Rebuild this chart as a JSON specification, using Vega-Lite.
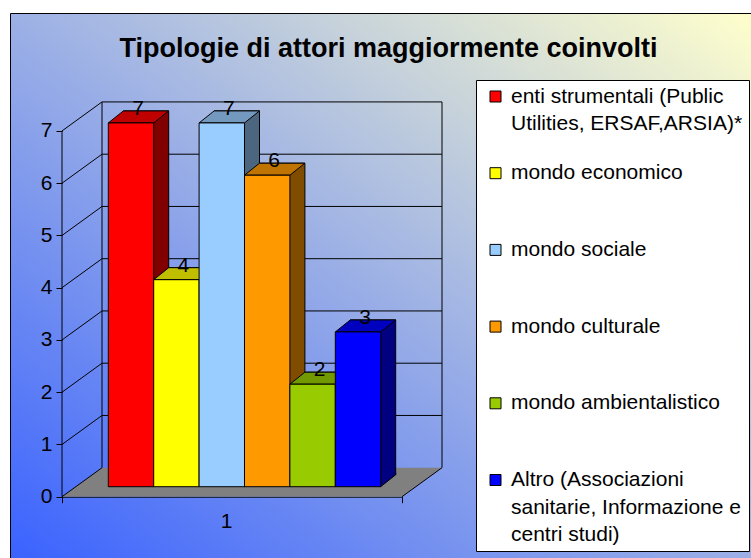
{
  "$schema": "https://vega.github.io/schema/vega-lite/v6.json",
  "width": 741,
  "height": 545,
  "autosize": {"type": "none"},
  "padding": {"left": 10, "top": 13, "right": 0, "bottom": 0},
  "view": {
    "stroke": "black",
    "strokeWidth": 1,
    "fill": {"gradient": "linear", "x1": 0, "y1": 1, "x2": 1, "y2": 0,
      "stops": [{"offset": 0, "color": "#3A62FF"}, {"offset": 1, "color": "#FFFFCC"}]}
  },
  "config": {"font": "Liberation Sans"},
  "title": {
    "text": "Tipologie di attori maggiormente coinvolti",
    "fontSize": 27, "fontWeight": "bold", "font": "Liberation Sans", "color": "black",
    "anchor": "middle", "frame": "group", "orient": "top", "baseline": "alphabetic",
    "offset": -71, "dx": 8
  },
  "datasets": {
    "serie": [
      {"categoria": "1", "serie": "enti strumentali (Public Utilities, ERSAF,ARSIA)*", "valore": 7},
      {"categoria": "1", "serie": "mondo economico", "valore": 4},
      {"categoria": "1", "serie": "mondo sociale", "valore": 7},
      {"categoria": "1", "serie": "mondo culturale", "valore": 6},
      {"categoria": "1", "serie": "mondo ambientalistico", "valore": 2},
      {"categoria": "1", "serie": "Altro (Associazioni sanitarie, Informazione e centri studi)", "valore": 3}
    ],
    "griglia": [{"k": 0}, {"k": 1}, {"k": 2}, {"k": 3}, {"k": 4}, {"k": 5}, {"k": 6}, {"k": 7}],
    "base": [{"categoria": "1"}]
  },
  "resolve": {"scale": {"xOffset": "independent", "fill": "independent"}},
  "layer": [
    {
      "data": {"name": "base"},
      "mark": {"type": "point", "shape": "M-170,0L170,0L210,-29L-130,-29Z", "size": 4, "filled": true, "fill": "#808080", "strokeWidth": 0, "opacity": 1},
      "encoding": {
        "x": {"field": "categoria", "type": "nominal", "title": null, "scale": {"domain": ["1"], "range": [52, 392], "paddingInner": 0, "paddingOuter": 0}},
        "y": {"datum": 0, "type": "quantitative", "title": null, "scale": {"domain": [-1.173, 9.257], "nice": false, "zero": false}}
      }
    },
    {
      "data": {"name": "griglia"},
      "mark": {"type": "point", "shape": "M-170,0L-130,-29", "size": 4, "filled": false, "stroke": "black", "strokeWidth": 1, "opacity": 1},
      "encoding": {
        "x": {"datum": "1", "type": "nominal", "title": null, "scale": {"domain": ["1"], "range": [52, 392], "paddingInner": 0, "paddingOuter": 0}},
        "y": {"field": "k", "type": "quantitative", "title": null, "scale": {"domain": [-1.173, 9.257], "nice": false, "zero": false}}
      }
    },
    {
      "data": {"name": "griglia"},
      "transform": [{"filter": "datum.k > 0"}],
      "mark": {"type": "point", "shape": "M-130,-29L210,-29", "size": 4, "filled": false, "stroke": "black", "strokeWidth": 1, "opacity": 1},
      "encoding": {
        "x": {"datum": "1", "type": "nominal", "title": null, "scale": {"domain": ["1"], "range": [52, 392], "paddingInner": 0, "paddingOuter": 0}},
        "y": {"field": "k", "type": "quantitative", "title": null, "scale": {"domain": [-1.173, 9.257], "nice": false, "zero": false}}
      }
    },
    {
      "data": {"name": "base"},
      "mark": {"type": "rule", "color": "black", "strokeWidth": 1, "xOffset": -130, "yOffset": -29, "y2Offset": -29},
      "encoding": {
        "x": {"field": "categoria", "type": "nominal", "title": null, "scale": {"domain": ["1"], "range": [52, 392], "paddingInner": 0, "paddingOuter": 0}},
        "y": {"datum": 0, "type": "quantitative", "title": null, "scale": {"domain": [-1.173, 9.257], "nice": false, "zero": false}},
        "y2": {"datum": 7}
      }
    },
    {
      "data": {"name": "base"},
      "mark": {"type": "rule", "color": "black", "strokeWidth": 1, "xOffset": 210, "yOffset": -29, "y2Offset": -29},
      "encoding": {
        "x": {"field": "categoria", "type": "nominal", "title": null, "scale": {"domain": ["1"], "range": [52, 392], "paddingInner": 0, "paddingOuter": 0}},
        "y": {"datum": 0, "type": "quantitative", "title": null, "scale": {"domain": [-1.173, 9.257], "nice": false, "zero": false}},
        "y2": {"datum": 7}
      }
    },
    {
      "data": {"name": "base"},
      "mark": {"type": "rule", "color": "black", "strokeWidth": 1, "xOffset": -170},
      "encoding": {
        "x": {"field": "categoria", "type": "nominal", "title": null, "scale": {"domain": ["1"], "range": [52, 392], "paddingInner": 0, "paddingOuter": 0}},
        "y": {"datum": 0, "type": "quantitative", "title": null, "scale": {"domain": [-1.173, 9.257], "nice": false, "zero": false}},
        "y2": {"datum": 7}
      }
    },
    {
      "data": {"name": "base"},
      "mark": {"type": "point", "shape": "M170,0L210,-29", "size": 4, "filled": false, "stroke": "black", "strokeWidth": 1, "opacity": 1},
      "encoding": {
        "x": {"field": "categoria", "type": "nominal", "title": null, "scale": {"domain": ["1"], "range": [52, 392], "paddingInner": 0, "paddingOuter": 0}},
        "y": {"datum": 0, "type": "quantitative", "title": null, "scale": {"domain": [-1.173, 9.257], "nice": false, "zero": false}}
      }
    },
    {
      "data": {"name": "serie"},
      "mark": {"type": "bar", "stroke": "black", "strokeWidth": 1, "yOffset": -20, "y2Offset": -22},
      "encoding": {
        "x": {"field": "categoria", "type": "nominal", "title": null, "scale": {"domain": ["1"], "range": [52, 392], "paddingInner": 0, "paddingOuter": 0}},
        "xOffset": {"field": "serie", "type": "nominal", "scale": {"domain": ["enti strumentali (Public Utilities, ERSAF,ARSIA)*", "mondo economico", "mondo sociale", "mondo culturale", "mondo ambientalistico", "Altro (Associazioni sanitarie, Informazione e centri studi)"], "range": [61.3, 333.7], "paddingInner": 0, "paddingOuter": 0}},
        "y": {"field": "valore", "type": "quantitative", "title": null, "scale": {"domain": [-1.173, 9.257], "nice": false, "zero": false}},
        "y2": {"datum": 0},
        "fill": {"field": "serie", "type": "nominal", "legend": null, "scale": {"domain": ["enti strumentali (Public Utilities, ERSAF,ARSIA)*", "mondo economico", "mondo sociale", "mondo culturale", "mondo ambientalistico", "Altro (Associazioni sanitarie, Informazione e centri studi)"], "range": ["#800000", "#808000", "#4D6680", "#804D00", "#4D6600", "#000080"]}}
      }
    },
    {
      "data": {"name": "serie"},
      "mark": {"type": "point", "shape": "M22.7,0L37.7,-12L37.7,-13.5L22.7,-13.5Z", "size": 4, "filled": true, "strokeWidth": 0, "opacity": 1, "yOffset": -10},
      "encoding": {
        "x": {"field": "categoria", "type": "nominal", "title": null, "scale": {"domain": ["1"], "range": [52, 392], "paddingInner": 0, "paddingOuter": 0}},
        "xOffset": {"field": "serie", "type": "nominal", "scale": {"type": "point", "domain": ["enti strumentali (Public Utilities, ERSAF,ARSIA)*", "mondo economico", "mondo sociale", "mondo culturale", "mondo ambientalistico", "Altro (Associazioni sanitarie, Informazione e centri studi)"], "range": [69, 296], "padding": 0}},
        "y": {"datum": 0, "type": "quantitative", "title": null, "scale": {"domain": [-1.173, 9.257], "nice": false, "zero": false}},
        "fill": {"field": "serie", "type": "nominal", "legend": null, "scale": {"domain": ["enti strumentali (Public Utilities, ERSAF,ARSIA)*", "mondo economico", "mondo sociale", "mondo culturale", "mondo ambientalistico", "Altro (Associazioni sanitarie, Informazione e centri studi)"], "range": ["#800000", "#808000", "#4D6680", "#804D00", "#4D6600", "#000080"]}}
      }
    },
    {
      "data": {"name": "serie"},
      "mark": {"type": "point", "shape": "M22.7,0L37.7,-12L37.7,-14", "size": 4, "filled": false, "stroke": "black", "strokeWidth": 1, "opacity": 1, "yOffset": -10},
      "encoding": {
        "x": {"field": "categoria", "type": "nominal", "title": null, "scale": {"domain": ["1"], "range": [52, 392], "paddingInner": 0, "paddingOuter": 0}},
        "xOffset": {"field": "serie", "type": "nominal", "scale": {"type": "point", "domain": ["enti strumentali (Public Utilities, ERSAF,ARSIA)*", "mondo economico", "mondo sociale", "mondo culturale", "mondo ambientalistico", "Altro (Associazioni sanitarie, Informazione e centri studi)"], "range": [69, 296], "padding": 0}},
        "y": {"datum": 0, "type": "quantitative", "title": null, "scale": {"domain": [-1.173, 9.257], "nice": false, "zero": false}}
      }
    },
    {
      "data": {"name": "serie"},
      "mark": {"type": "point", "shape": "M-22.7,0L22.7,0L37.7,-12L-7.7,-12Z", "size": 4, "filled": true, "stroke": "black", "strokeWidth": 1, "opacity": 1, "yOffset": -8},
      "encoding": {
        "x": {"field": "categoria", "type": "nominal", "title": null, "scale": {"domain": ["1"], "range": [52, 392], "paddingInner": 0, "paddingOuter": 0}},
        "xOffset": {"field": "serie", "type": "nominal", "scale": {"type": "point", "domain": ["enti strumentali (Public Utilities, ERSAF,ARSIA)*", "mondo economico", "mondo sociale", "mondo culturale", "mondo ambientalistico", "Altro (Associazioni sanitarie, Informazione e centri studi)"], "range": [69, 296], "padding": 0}},
        "y": {"field": "valore", "type": "quantitative", "title": null, "scale": {"domain": [-1.173, 9.257], "nice": false, "zero": false}},
        "fill": {"field": "serie", "type": "nominal", "legend": null, "scale": {"domain": ["enti strumentali (Public Utilities, ERSAF,ARSIA)*", "mondo economico", "mondo sociale", "mondo culturale", "mondo ambientalistico", "Altro (Associazioni sanitarie, Informazione e centri studi)"], "range": ["#C00000", "#BFBF00", "#7399BF", "#BF7300", "#739900", "#0000BF"]}}
      }
    },
    {
      "data": {"name": "serie"},
      "mark": {"type": "bar", "stroke": "black", "strokeWidth": 1, "yOffset": -8, "y2Offset": -10},
      "encoding": {
        "x": {"field": "categoria", "type": "nominal", "title": null,
          "scale": {"domain": ["1"], "range": [52, 392], "paddingInner": 0, "paddingOuter": 0},
          "axis": {"orient": "bottom", "offset": -61.3, "title": null, "grid": false, "domainColor": "black", "domainWidth": 1, "tickColor": "black", "tickSize": 6, "tickBand": "extent", "labelAngle": 0, "labelFontSize": 21, "labelFont": "Liberation Sans", "labelColor": "black", "labelPadding": 19}},
        "xOffset": {"field": "serie", "type": "nominal", "scale": {"domain": ["enti strumentali (Public Utilities, ERSAF,ARSIA)*", "mondo economico", "mondo sociale", "mondo culturale", "mondo ambientalistico", "Altro (Associazioni sanitarie, Informazione e centri studi)"], "range": [46.3, 318.7], "paddingInner": 0, "paddingOuter": 0}},
        "y": {"field": "valore", "type": "quantitative", "title": null,
          "scale": {"domain": [-1.173, 9.257], "nice": false, "zero": false},
          "axis": {"orient": "left", "offset": -52, "values": [0, 1, 2, 3, 4, 5, 6, 7], "title": null, "grid": false, "domain": false, "tickColor": "black", "tickSize": 6, "labelFontSize": 21, "labelFont": "Liberation Sans", "labelColor": "black", "labelPadding": 4}},
        "y2": {"datum": 0},
        "fill": {"field": "serie", "type": "nominal",
          "scale": {"domain": ["enti strumentali (Public Utilities, ERSAF,ARSIA)*", "mondo economico", "mondo sociale", "mondo culturale", "mondo ambientalistico", "Altro (Associazioni sanitarie, Informazione e centri studi)"], "range": ["#FF0000", "#FFFF00", "#99CCFF", "#FF9900", "#99CC00", "#0000FF"]},
          "legend": {
            "orient": "none", "legendX": 466, "legendY": 67, "title": null,
            "symbolType": "square", "symbolSize": 121, "symbolStrokeColor": "black", "symbolStrokeWidth": 1, "symbolOpacity": 1,
            "labelFontSize": 21, "labelFont": "Liberation Sans", "labelColor": "black", "labelBaseline": "top", "labelLimit": 600,
            "labelOffset": 5, "symbolOffset": 3, "padding": 6, "rowPadding": -0.3, "gridAlign": "all",
            "strokeColor": "black", "fillColor": "white",
            "labelExpr": "datum.label == 'enti strumentali (Public Utilities, ERSAF,ARSIA)*' ? ['enti strumentali (Public', 'Utilities, ERSAF,ARSIA)*'] : datum.label == 'Altro (Associazioni sanitarie, Informazione e centri studi)' ? ['Altro (Associazioni', 'sanitarie, Informazione e      ', 'centri studi)'] : datum.label",
            "encode": {"labels": {"update": {"dy": {"value": -11}, "lineHeight": {"value": 27.5}}}, "symbols": {"update": {"stroke": {"value": "black"}, "strokeWidth": {"value": 1}}}}
          }}
      }
    },
    {
      "data": {"name": "serie"},
      "mark": {"type": "text", "fontSize": 21, "font": "Liberation Sans", "color": "black", "align": "center", "baseline": "middle", "dx": 7, "dy": -22},
      "encoding": {
        "x": {"field": "categoria", "type": "nominal", "title": null, "scale": {"domain": ["1"], "range": [52, 392], "paddingInner": 0, "paddingOuter": 0}},
        "xOffset": {"field": "serie", "type": "nominal", "scale": {"type": "point", "domain": ["enti strumentali (Public Utilities, ERSAF,ARSIA)*", "mondo economico", "mondo sociale", "mondo culturale", "mondo ambientalistico", "Altro (Associazioni sanitarie, Informazione e centri studi)"], "range": [69, 296], "padding": 0}},
        "y": {"field": "valore", "type": "quantitative", "title": null, "scale": {"domain": [-1.173, 9.257], "nice": false, "zero": false}},
        "text": {"field": "valore", "type": "quantitative"}
      }
    }
  ]
}
